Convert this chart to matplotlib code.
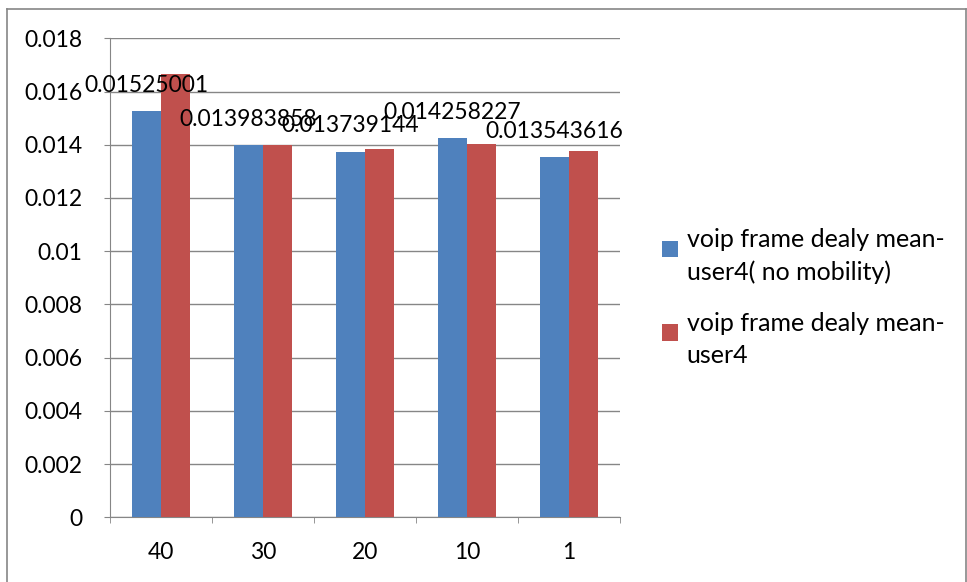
import matplotlib
matplotlib.use("Agg")
import matplotlib.pyplot as plt
import numpy as np
from matplotlib.patches import Rectangle
from matplotlib.lines import Line2D
from matplotlib.container import BarContainer
from matplotlib.legend_handler import HandlerPatch, update_from_first_child

plt.rcParams['font.family'] = ['Lato', 'DejaVu Sans']

categories = ["40", "30", "20", "10", "1"]
no_mobility = [0.01525001, 0.013983858, 0.013739144, 0.014258227, 0.013543616]
with_mobility = [0.01665, 0.01400, 0.01384, 0.01404, 0.01375]
series_names = ["voip frame dealy mean-\nuser4( no mobility)",
                "voip frame dealy mean-\nuser4"]
yticks = [0, 0.002, 0.004, 0.006, 0.008, 0.01, 0.012, 0.014, 0.016, 0.018]
ytick_labels = ["0", "0.002", "0.004", "0.006", "0.008", "0.01", "0.012",
                "0.014", "0.016", "0.018"]

blue = "#4F81BD"
red = "#C0504D"
axis_gray = "#868686"

fig = plt.figure(figsize=(9.67, 5.82), dpi=100)
ax = fig.add_axes([0.1138, 0.1112, 0.5274, 0.8230])

x = np.arange(len(categories))
w = 0.284
ax.bar(x - w / 2, no_mobility, width=w, color=blue, label=series_names[0], zorder=3)
ax.bar(x + w / 2, with_mobility, width=w, color=red, label=series_names[1], zorder=3)

for xi, v in zip(x, no_mobility):
    ax.annotate(f"{v:.9g}", (xi - w / 2, v), xytext=(0, 11), textcoords="offset points",
                ha="center", va="bottom", fontsize=16.5, color="black", zorder=5)

ax.set_xlim(-0.5, len(categories) - 0.5)
ax.set_ylim(0, 0.018)
ax.set_yticks(yticks)
ax.set_yticklabels(ytick_labels, fontsize=16.5)
ax.set_xticks(x)
ax.set_xticklabels(categories, fontsize=16.5)
ax.set_xticks(np.arange(-0.5, len(categories)), minor=True)
ax.tick_params(axis="x", which="major", length=0, pad=18)
ax.tick_params(axis="x", which="minor", length=4.3, color=axis_gray, direction="out")
ax.tick_params(axis="y", length=4.3, color=axis_gray, direction="out", pad=15.5)

ax.yaxis.grid(True, color=axis_gray, linewidth=1, zorder=0)
ax.set_axisbelow(True)
for s in ["top", "right"]:
    ax.spines[s].set_visible(False)
for s in ["left", "bottom"]:
    ax.spines[s].set_color(axis_gray)


def first_line_square(legend, orig_handle, xdescent, ydescent, width, height, fontsize):
    # raise the swatch so it sits beside the first line of a two-line label
    return Rectangle((-xdescent, -ydescent + 0.32 * fontsize), width, height)


leg_fs = 18
leg = ax.legend(loc="upper left", bbox_to_anchor=(662 / 967, 1 - 228 / 582),
                bbox_transform=fig.transFigure, frameon=False,
                fontsize=leg_fs, handlelength=0.64, handleheight=0.64, handletextpad=0.35,
                labelspacing=1.1, borderpad=0, borderaxespad=0,
                handler_map={BarContainer: HandlerPatch(patch_func=first_line_square,
                                                        update_func=update_from_first_child)})
for t in leg.get_texts():
    t.set_linespacing(1.5)

# chart-area frame
for xs, ys in [((7, 7), (0, 573)), ((7, 966), (573, 573)), ((966, 966), (0, 573))]:
    fig.add_artist(Line2D([v / 967 for v in xs], [v / 582 for v in ys],
                          transform=fig.transFigure, color=axis_gray, linewidth=1.2))

fig.savefig("out.png", dpi=100)
